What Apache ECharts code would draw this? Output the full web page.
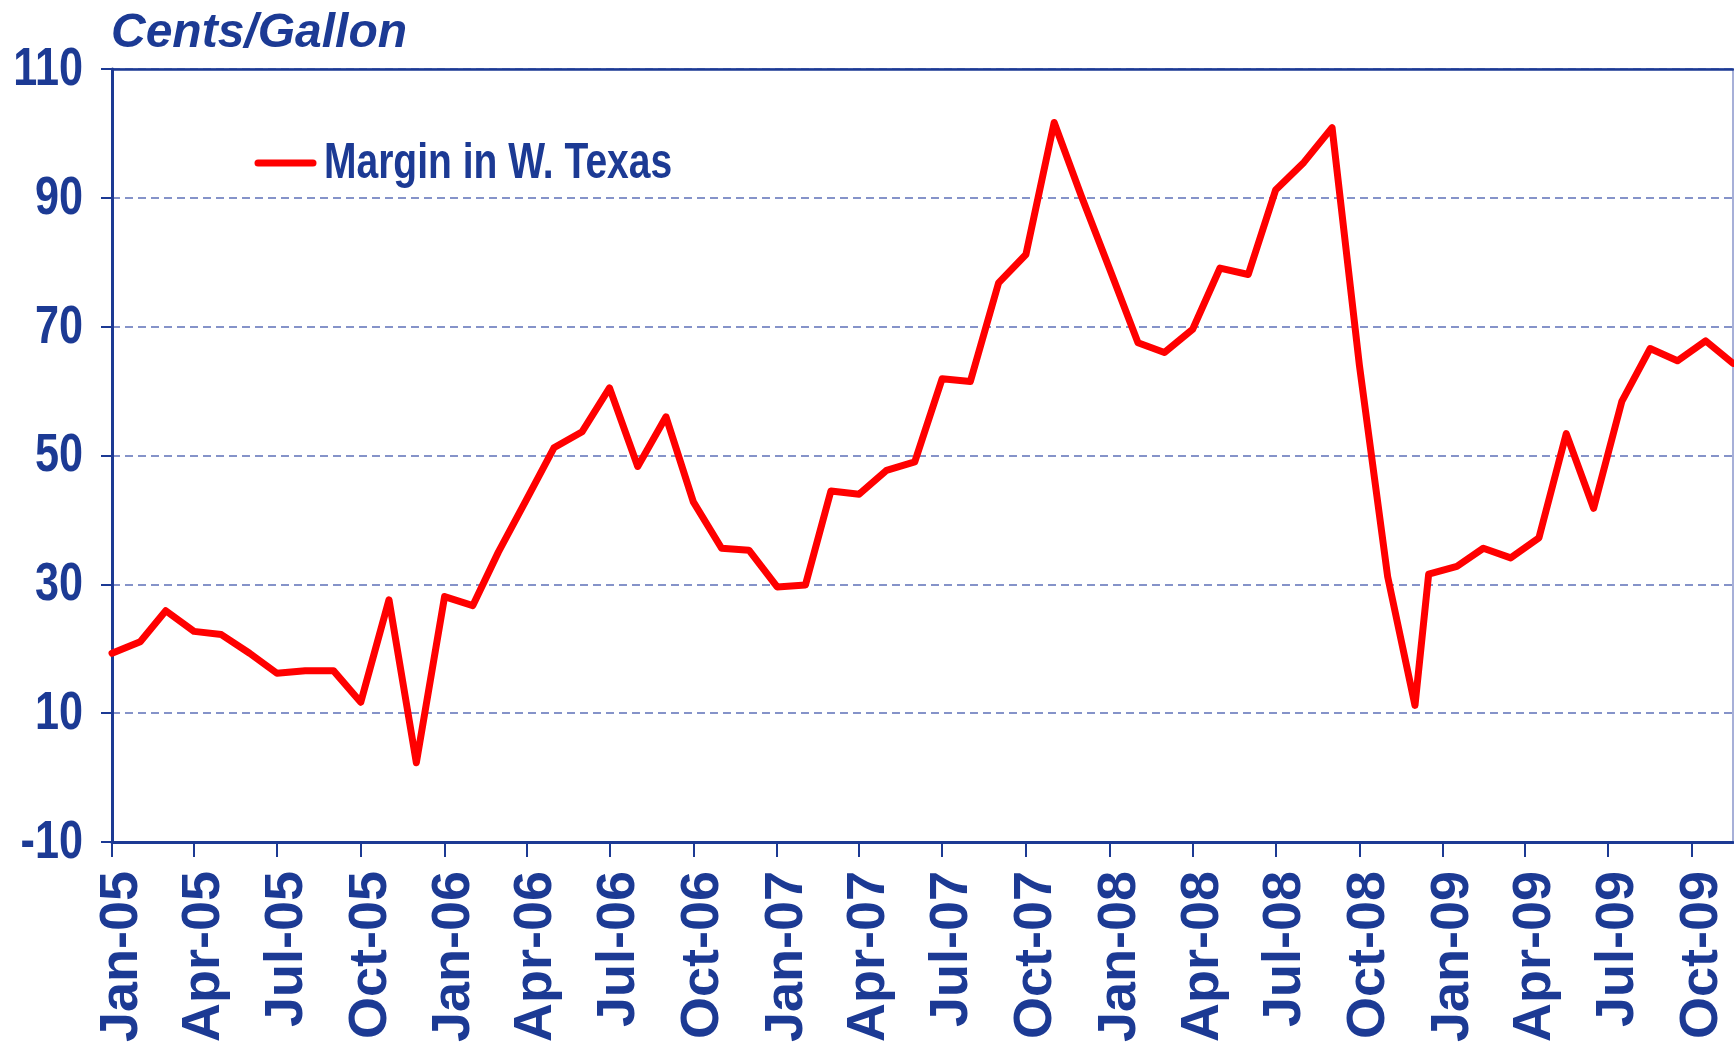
<!DOCTYPE html>
<html>
<head>
<meta charset="utf-8">
<script src="https://cdn.jsdelivr.net/npm/echarts@6/dist/echarts.min.js"></script>
<style>
html,body{margin:0;padding:0;background:#fff;}
#chart{width:1734px;height:1044px;}
</style>
</head>
<body>
<div id="chart"></div>
<script>
// ---- data ----
const dates = [
  '2005-01-01','2005-02-01','2005-03-01','2005-04-01','2005-05-01','2005-06-01',
  '2005-07-01','2005-08-01','2005-09-01','2005-10-01','2005-11-01','2005-12-01',
  '2006-01-01','2006-02-01','2006-03-01','2006-04-01','2006-05-01','2006-06-01',
  '2006-07-01','2006-08-01','2006-09-01','2006-10-01','2006-11-01','2006-12-01',
  '2007-01-01','2007-02-01','2007-03-01','2007-04-01','2007-05-01','2007-06-01',
  '2007-07-01','2007-08-01','2007-09-01','2007-10-01','2007-11-01','2007-12-01',
  '2008-01-01','2008-02-01','2008-03-01','2008-04-01','2008-05-01','2008-06-01',
  '2008-07-01','2008-08-01','2008-09-01','2008-10-01','2008-11-01','2008-12-01',
  '2008-12-16','2009-01-16','2009-02-14','2009-03-16','2009-04-16','2009-05-16',
  '2009-06-15','2009-07-16','2009-08-16','2009-09-15','2009-10-16','2009-11-15'
];
const marginWTexas = [
  19.3, 21.1, 25.9, 22.7, 22.2, 19.3, 16.2, 16.6, 16.6, 11.7, 27.6, 2.3,
  28.1, 26.7, 35.0, 43.2, 51.2, 53.7, 60.5, 48.3, 56.0, 42.8, 35.6, 35.3,
  29.6, 29.9, 44.5, 44.0, 47.7, 49.0, 61.9, 61.5, 76.8, 81.2, 101.7, 90.2,
  78.9, 67.5, 66.0, 69.6, 79.1, 78.1, 91.2, 95.5, 100.9, 64.0, 31.2, 11.2,
  31.6, 32.8, 35.6, 34.1, 37.2, 53.4, 41.8, 58.4, 66.6, 64.7, 67.8, 64.3
];
const tickDates = [
  '2005-01-01','2005-04-01','2005-07-01','2005-10-01',
  '2006-01-01','2006-04-01','2006-07-01','2006-10-01',
  '2007-01-01','2007-04-01','2007-07-01','2007-10-01',
  '2008-01-01','2008-04-01','2008-07-01','2008-10-01',
  '2009-01-01','2009-04-01','2009-07-01','2009-10-01'
];
const tickLabels = [
  'Jan-05','Apr-05','Jul-05','Oct-05','Jan-06','Apr-06','Jul-06','Oct-06',
  'Jan-07','Apr-07','Jul-07','Oct-07','Jan-08','Apr-08','Jul-08','Oct-08',
  'Jan-09','Apr-09','Jul-09','Oct-09'
];
const yTickValues = [-10, 10, 30, 50, 70, 90, 110];
const axisStart = '2005-01-01';
const axisEnd = '2009-11-15';
const seriesName = 'Margin in W. Texas';
const unitTitle = 'Cents/Gallon';

// ---- helpers: dates -> day number since axisStart ----
const DAY = 86400000;
function toDay(s){ const p = s.split('-').map(Number); return Math.round((Date.UTC(p[0], p[1]-1, p[2]) - Date.UTC(2005,0,1))/DAY); }
const tickDays = tickDates.map(toDay);
const seriesData = dates.map((d,i)=>[toDay(d), marginWTexas[i]]);

const NAVY = '#1C3A94';
const RED = '#FF0000';
const WIDE = "'Liberation Sans',Arial,sans-serif";

const chart = echarts.init(document.getElementById('chart'), null, {renderer:'canvas'});
chart.setOption({
  animation:false,
  backgroundColor:'#fff',
  title:{
    text: unitTitle, left:106, top:5,
    textStyle:{color:NAVY, fontSize:48, fontWeight:'bold', fontStyle:'italic', fontFamily:WIDE}
  },
  grid:{left:112, right:1, top:69, bottom:202, containLabel:false, outerBoundsMode:'none',
        show:true, borderColor:'#8A97CC', borderWidth:1.5},
  xAxis:[{
    type:'value', min:toDay(axisStart), max:toDay(axisEnd),
    axisLine:{show:true, onZero:false, lineStyle:{color:NAVY, width:3}},
    axisTick:{show:true, length:15, lineStyle:{color:NAVY, width:2}, customValues:tickDays},
    axisLabel:{
      show:true, rotate:90, margin:29, customValues:tickDays,
      verticalAlign:'top', lineHeight:20,
      color:NAVY, fontSize:54, fontWeight:'bold', fontFamily:WIDE,
      formatter:function(v){ const i = tickDays.indexOf(Math.round(v)); return i>=0 ? tickLabels[i] : ''; }
    },
    splitLine:{show:false}
  },{
    type:'value', position:'top', min:toDay(axisStart), max:toDay(axisEnd),
    axisLine:{show:true, onZero:false, lineStyle:{color:NAVY, width:2.5}},
    axisTick:{show:false}, axisLabel:{show:false}, splitLine:{show:false}
  }],
  yAxis:[{
    type:'value', min:-10, max:110, interval:20,
    axisLine:{show:true, onZero:false, lineStyle:{color:NAVY, width:3}},
    axisTick:{show:true, length:11, lineStyle:{color:NAVY, width:2}},
    axisLabel:{show:false},
    splitLine:{show:true, lineStyle:{color:'#5E70B8', width:1.5, type:[8,5]}}
  }],
  series:[{
    name:seriesName, type:'line', xAxisIndex:0, yAxisIndex:0,
    data:seriesData, showSymbol:false, symbol:'none',
    lineStyle:{color:RED, width:7, join:'round', cap:'round'},
    itemStyle:{color:RED}
  }]
});

// condensed y-axis labels and legend, placed through the axis scale
const gfx = [];
yTickValues.forEach(function(v){
  const p = chart.convertToPixel({gridIndex:0}, [toDay(axisStart), v]);
  gfx.push({type:'text', x:p[0]-29, y:p[1]+1, scaleX:0.8, silent:true,
    style:{text:String(v), fill:NAVY, font:'bold 54px ' + WIDE, align:'right', verticalAlign:'middle'}});
});
gfx.push({type:'line', silent:true,
  shape:{x1:258, y1:163, x2:313, y2:163},
  style:{stroke:RED, lineWidth:7, lineCap:'round'}});
gfx.push({type:'text', x:324, y:164, scaleX:0.78, silent:true,
  style:{text:seriesName, fill:NAVY, font:'bold 50px ' + WIDE, align:'left', verticalAlign:'middle'}});
chart.setOption({graphic:{elements:gfx}});
</script>
</body>
</html>
